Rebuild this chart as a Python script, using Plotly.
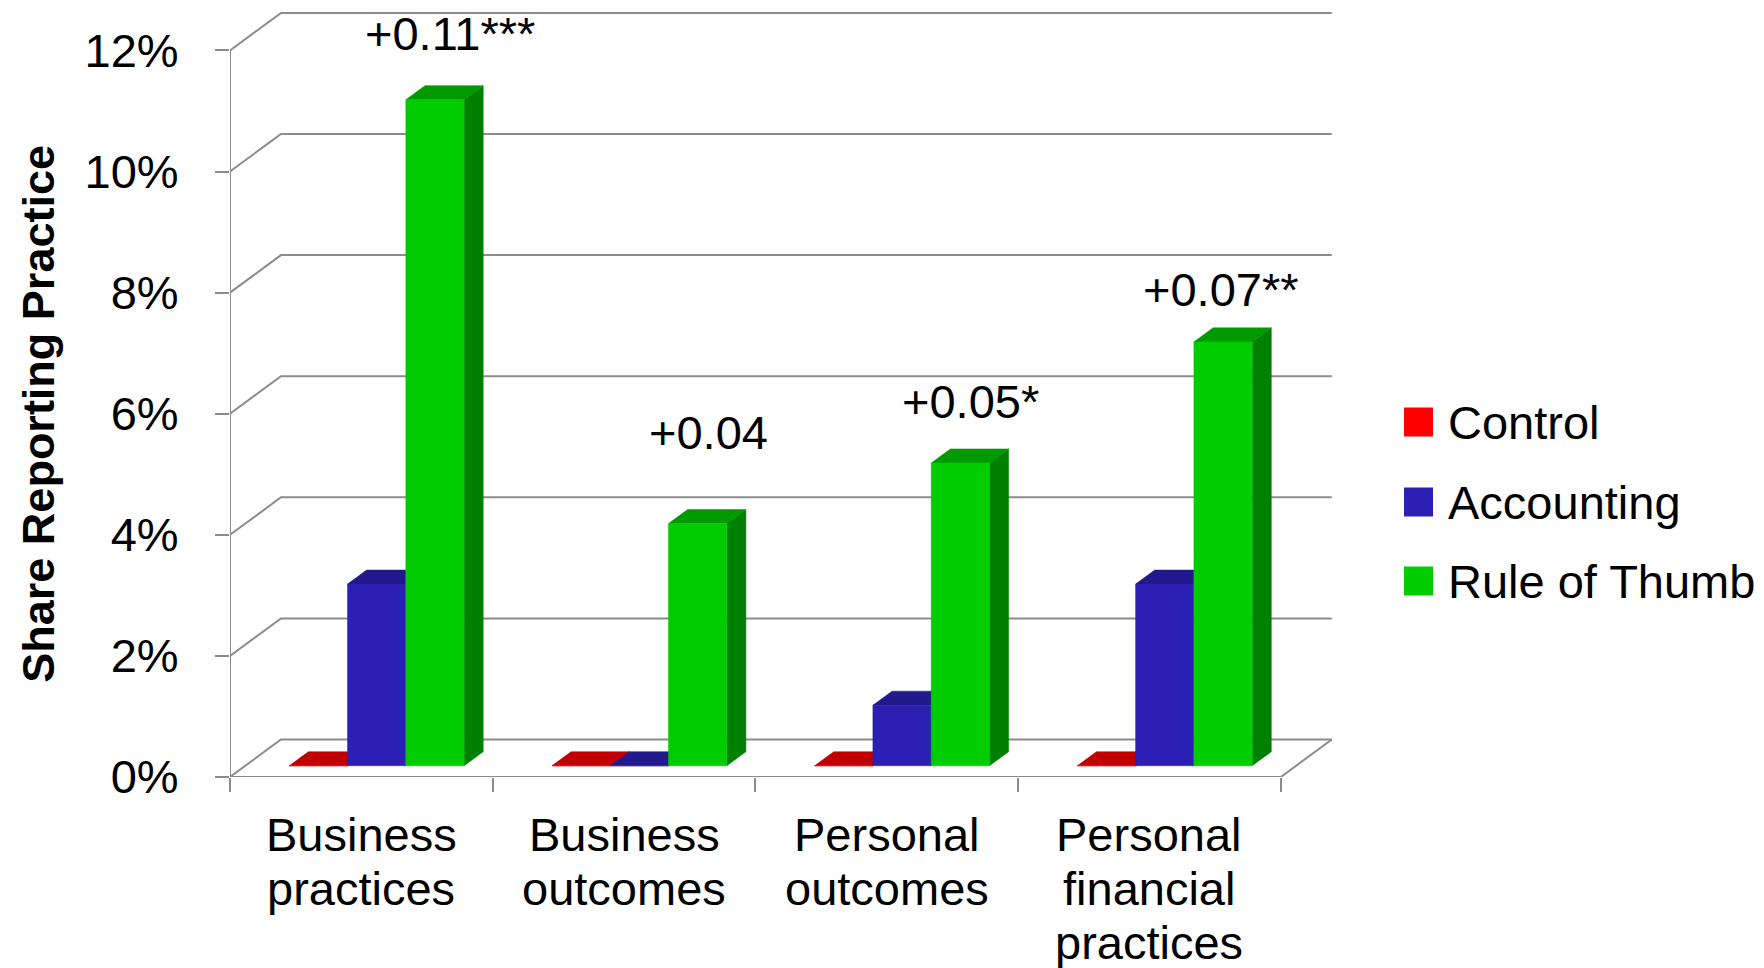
import plotly.graph_objects as go

# ---------------- data ----------------
categories = ["Business<br>practices", "Business<br>outcomes",
              "Personal<br>outcomes", "Personal<br>financial<br>practices"]
series_names = ["Control", "Accounting", "Rule of Thumb"]
control = [0, 0, 0, 0]
accounting = [3, 0, 1, 3]
rule_of_thumb = [11, 4, 5, 7]
y_tick_values = [0, 2, 4, 6, 8, 10, 12]
y_tick_labels = ["0%", "2%", "4%", "6%", "8%", "10%", "12%"]
diff_labels = ["+0.11***", "+0.04", "+0.05*", "+0.07**"]

# ---------------- styling / layout constants ----------------
diff_label_x = [0.337, 1.323, 2.317, 3.272]
diff_label_y = [12.28, 5.69, 6.20, 8.05]

front_colors = ["#FF0000", "#2C1FB4", "#00CC00"]
top_colors = ["#C00000", "#21198C", "#009A00"]
side_colors = ["#A00000", "#1A1470", "#008000"]
legend_colors = ["#FF0000", "#2C1FB4", "#00CC00"]
GRID = "#8C8C8C"
FONT = "Liberation Sans, Arial, sans-serif"

W_FIG, H_FIG = 1764, 968
L, B, T, R = 230, 191, 10, 424
PX_CAT = 262.7     # pixels per category
PX_PCT = 60.55     # pixels per percentage point
plot_w = W_FIG - L - R
plot_h = H_FIG - B - T
DX = 51.0 / PX_CAT      # full depth offset, x (data units)
DY = 37.5 / PX_PCT      # full depth offset, y (data units)
D0, D1 = 0.30, 0.675    # bar front / back depth fraction
BW = 58.3 / PX_CAT      # bar width (data units)

x_lo = -0.5
x_hi = len(categories) - 0.5
x_range = [x_lo, x_lo + plot_w / PX_CAT]
y_range = [0, plot_h / PX_PCT]


def pxx(px):
    return (px - L) / plot_w


def pxy(py):
    return (H_FIG - B - py) / plot_h


fig = go.Figure()

# ---------------- walls / gridlines ----------------
gx, gy = [], []
for t in y_tick_values:
    gx += [x_lo, x_lo + DX, x_hi + DX, None]
    gy += [t, t + DY, t + DY, None]
gx += [x_lo, x_lo, None, x_lo, x_hi, x_hi + DX, None]
gy += [0, max(y_tick_values), None, 0, 0, DY, None]
fig.add_trace(go.Scatter(x=gx, y=gy, mode="lines",
                         line=dict(color=GRID, width=2),
                         hoverinfo="skip", showlegend=False))

# ---------------- 3D bars ----------------
all_series = [control, accounting, rule_of_thumb]
ox0, oy0 = D0 * DX, D0 * DY
ox1, oy1 = D1 * DX, D1 * DY
for j, (name, vals) in enumerate(zip(series_names, all_series)):
    fx, fy, tx, ty, sx, sy = [], [], [], [], [], []
    for i, v in enumerate(vals):
        l = i + (j - 1.5) * BW
        r = l + BW
        # front face
        fx += [l + ox0, r + ox0, r + ox0, l + ox0, l + ox0, None]
        fy += [oy0, oy0, v + oy0, v + oy0, oy0, None]
        # top face
        tx += [l + ox0, r + ox0, r + ox1, l + ox1, l + ox0, None]
        ty += [v + oy0, v + oy0, v + oy1, v + oy1, v + oy0, None]
        # side face
        sx += [r + ox0, r + ox1, r + ox1, r + ox0, r + ox0, None]
        sy += [oy0, oy1, v + oy1, v + oy0, oy0, None]
    for xs, ys, col in ((sx, sy, side_colors[j]), (tx, ty, top_colors[j]),
                        (fx, fy, front_colors[j])):
        fig.add_trace(go.Scatter(x=xs, y=ys, mode="lines", fill="toself",
                                 fillcolor=col, line=dict(color=col, width=0.5),
                                 name=name, hoverinfo="skip", showlegend=False))

annotations = []
# difference labels
for lab, x, y in zip(diff_labels, diff_label_x, diff_label_y):
    annotations.append(dict(x=x, y=y, xref="x", yref="y", text=lab,
                            showarrow=False, xanchor="center", yanchor="middle",
                            font=dict(family=FONT, size=47, color="black")))
# category labels (line by line for tighter spacing)
for i, lab in enumerate(categories):
    for k, line in enumerate(lab.split("<br>")):
        annotations.append(dict(x=i, y=0, xref="x", yref="y", text=line,
                                showarrow=False, xanchor="center", yanchor="top",
                                yshift=-(29 + 54 * k),
                                font=dict(family=FONT, size=47, color="black")))
# y-axis title
annotations.append(dict(x=pxx(39), y=6, xref="paper", yref="y",
                        text="<b>Share Reporting Practice</b>", textangle=-90,
                        showarrow=False, xanchor="center", yanchor="middle",
                        font=dict(family=FONT, size=45, color="black")))

# legend (custom, large squares)
shapes = []
legend_y = [422, 502, 581]
for name, col, yc in zip(series_names, legend_colors, legend_y):
    shapes.append(dict(type="rect", xref="paper", yref="paper",
                       x0=pxx(1404), x1=pxx(1433),
                       y0=pxy(yc + 14.5), y1=pxy(yc - 14.5),
                       fillcolor=col, line=dict(width=0)))
    annotations.append(dict(x=pxx(1446), y=pxy(yc), xref="paper", yref="paper",
                            text=name, showarrow=False, xanchor="left",
                            yanchor="middle",
                            font=dict(family=FONT, size=47, color="black")))

fig.update_layout(
    width=W_FIG, height=H_FIG,
    margin=dict(l=L, r=R, t=T, b=B, pad=0),
    paper_bgcolor="white", plot_bgcolor="white",
    showlegend=False,
    font=dict(family=FONT, size=47, color="black"),
    xaxis=dict(range=x_range, tickmode="array",
               tickvals=[x_lo + k for k in range(len(categories) + 1)],
               showticklabels=False, ticks="outside", ticklen=14,
               tickwidth=2, tickcolor=GRID, showgrid=False, zeroline=False,
               showline=False, fixedrange=True),
    yaxis=dict(range=y_range, tickmode="array", tickvals=y_tick_values,
               ticktext=y_tick_labels, ticks="outside", ticklen=14,
               tickwidth=2, tickcolor=GRID, showgrid=False, zeroline=False,
               showline=False, ticklabelstandoff=27,
               tickfont=dict(family=FONT, size=47, color="black"),
               fixedrange=True),
    annotations=annotations,
    shapes=shapes,
)

fig.write_html("out.html")
